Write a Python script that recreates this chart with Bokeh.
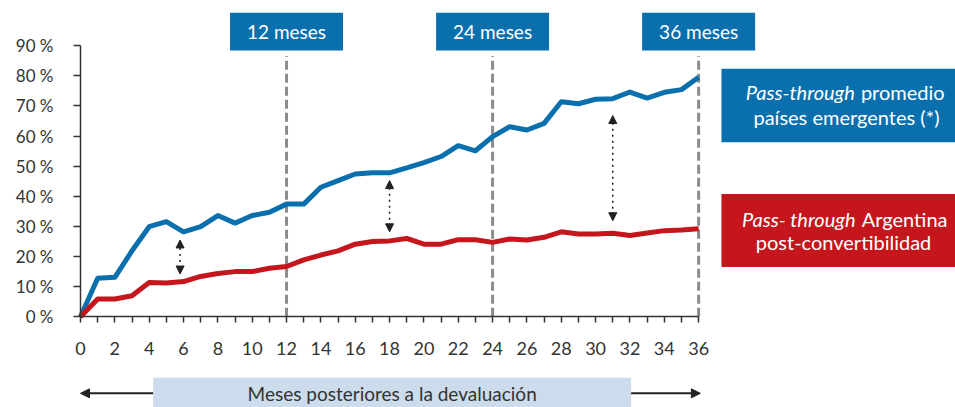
from bokeh.plotting import figure
from bokeh.models import Range1d, FixedTicker, Arrow, NormalHead, ColumnDataSource
from bokeh.embed import file_html
from bokeh.resources import INLINE
from bokeh.core.properties import value

# ---------------- data ----------------
months = list(range(0, 37))
emergentes = [0, 12.8, 13.1, 21.9, 29.9, 31.6, 28.2, 29.9, 33.6, 31.1, 33.6, 34.7,
              37.4, 37.4, 43.0, 45.2, 47.4, 47.8, 47.8, 49.4, 51.2, 53.2, 56.8, 55.1,
              59.8, 63.1, 62.0, 64.2, 71.4, 70.7, 72.2, 72.4, 74.6, 72.6, 74.5, 75.4, 79.5]
argentina = [0, 5.9, 5.9, 7.0, 11.4, 11.2, 11.7, 13.4, 14.4, 15.0, 15.0, 16.1,
             16.7, 18.9, 20.5, 21.9, 24.1, 25.0, 25.2, 26.0, 24.1, 24.1, 25.6, 25.6,
             24.7, 25.8, 25.5, 26.4, 28.2, 27.5, 27.5, 27.7, 27.0, 27.8, 28.6, 28.8, 29.2]
y_ticks = [0, 10, 20, 30, 40, 50, 60, 70, 80, 90]
y_tick_labels = ["0 %", "10 %", "20 %", "30 %", "40 %", "50 %", "60 %", "70 %", "80 %", "90 %"]
x_ticks = [0, 2, 4, 6, 8, 10, 12, 14, 16, 18, 20, 22, 24, 26, 28, 30, 32, 34, 36]
x_minor_ticks = [1, 3, 5, 7, 9, 11, 13, 15, 17, 19, 21, 23, 25, 27, 29, 31, 33, 35]
hitos = [12, 24, 36]
hito_labels = ["12 meses", "24 meses", "36 meses"]
brecha_x = [5.8, 18, 31]
brecha_low = [14.2, 28.2, 31.9]
brecha_high = [25.5, 45.2, 66.8]
x_label = "Meses posteriores a la devaluación"

# ---------------- style ----------------
BLUE = "#0A6FAD"
RED = "#C4161C"
GREY = "#8C8C8C"
TXT = "#333333"
DARK = "#222222"
FONT = "Lato"

p = figure(width=955, height=407, x_range=Range1d(-4.659, 50.96),
           y_range=Range1d(-30.1, 104.98), output_backend="svg",
           toolbar_location=None, min_border=0)
p.min_border_left = 0
p.min_border_right = 0
p.min_border_top = 0
p.min_border_bottom = 0
p.outline_line_color = None
p.grid.visible = False
p.background_fill_color = "white"
p.border_fill_color = "white"

# axes (drawn at the zero lines)
xa = p.xaxis[0]
xa.fixed_location = 0
xa.bounds = (0, 36)
xa.ticker = FixedTicker(ticks=x_ticks, minor_ticks=x_minor_ticks)
xa.axis_line_color = TXT
xa.axis_line_width = 1.5
xa.major_tick_line_color = TXT
xa.minor_tick_line_color = TXT
xa.major_tick_line_width = 1.5
xa.minor_tick_line_width = 1.5
xa.major_tick_in = 0
xa.major_tick_out = 6
xa.minor_tick_in = 0
xa.minor_tick_out = 6
xa.major_label_standoff = 19
xa.major_label_text_font = FONT
xa.major_label_text_font_size = "18px"
xa.major_label_text_color = TXT

ya = p.yaxis[0]
ya.fixed_location = 0
ya.bounds = (0, 90)
ya.ticker = FixedTicker(ticks=y_ticks, minor_ticks=[])
ya.major_label_overrides = dict(zip(y_ticks, y_tick_labels))
ya.axis_line_color = TXT
ya.axis_line_width = 1.5
ya.major_tick_line_color = TXT
ya.major_tick_line_width = 1.5
ya.major_tick_in = 0
ya.major_tick_out = 7
ya.minor_tick_out = 0
ya.major_label_standoff = 20
ya.major_label_text_font = FONT
ya.major_label_text_font_size = "17px"
ya.major_label_text_color = TXT

# vertical dashed markers and their boxes
p.segment(x0=hitos, y0=[0] * len(hitos), x1=hitos, y1=[86.6] * len(hitos),
          line_color=GREY, line_width=3, line_dash="9 4")
p.rect(x=hitos, y=94.65, width=6.58, height=12.5, fill_color=BLUE, line_color=None)
p.text(x=hitos, y=94.65, text=hito_labels, text_align="center", text_baseline="middle",
       text_color="white", text_font=value(FONT), text_font_size="19px")

# series
src = ColumnDataSource(dict(m=months, e=emergentes, a=argentina))
p.line("m", "e", source=src, line_color=BLUE, line_width=5, line_join="round")
p.line("m", "a", source=src, line_color=RED, line_width=5, line_join="round")

# gap arrows
bsrc = ColumnDataSource(dict(x=brecha_x, lo=brecha_low, hi=brecha_high))
p.add_layout(Arrow(start=NormalHead(size=8, fill_color=DARK, line_color=DARK),
                   end=NormalHead(size=8, fill_color=DARK, line_color=DARK),
                   x_start="x", y_start="lo", x_end="x", y_end="hi", source=bsrc,
                   line_color=DARK, line_width=1.5, line_dash="dotted"))

# legend boxes
p.quad(left=37.33, right=52, top=82.3, bottom=57.9, fill_color=BLUE, line_color=None)
p.quad(left=37.33, right=52, top=40.8, bottom=16.5, fill_color=RED, line_color=None)
LS = "20px"
p.text(x=45.1, y=74.5, text=["Pass-through"], text_align="right", text_baseline="middle",
       text_color="white", text_font=value(FONT), text_font_style="italic", text_font_size=LS)
p.text(x=45.45, y=74.5, text=["promedio"], text_align="left", text_baseline="middle",
       text_color="white", text_font=value(FONT), text_font_size=LS)
p.text(x=44.61, y=66.2, text=["países emergentes (*)"], text_align="center", text_baseline="middle",
       text_color="white", text_font=value(FONT), text_font_size=LS)
p.text(x=45.15, y=32.6, text=["Pass- through"], text_align="right", text_baseline="middle",
       text_color="white", text_font=value(FONT), text_font_style="italic", text_font_size=LS)
p.text(x=45.5, y=32.6, text=["Argentina"], text_align="left", text_baseline="middle",
       text_color="white", text_font=value(FONT), text_font_size=LS)
p.text(x=44.44, y=24.8, text=["post-convertibilidad"], text_align="center", text_baseline="middle",
       text_color="white", text_font=value(FONT), text_font_size=LS)

# bottom band with arrows
p.quad(left=4.23, right=32.07, top=-20.2, bottom=-32, fill_color="#CCDCEC", line_color=None)
p.text(x=18.15, y=-25.3, text=[x_label], text_align="center", text_baseline="alphabetic",
       text_color=TXT, text_font=value(FONT), text_font_size="19px")
p.add_layout(Arrow(end=NormalHead(size=9, fill_color=DARK, line_color=DARK),
                   x_start=4.23, y_start=-25.4, x_end=0, y_end=-25.4,
                   line_color=DARK, line_width=2))
p.add_layout(Arrow(end=NormalHead(size=9, fill_color=DARK, line_color=DARK),
                   x_start=32.07, y_start=-25.4, x_end=36.1, y_end=-25.4,
                   line_color=DARK, line_width=2))

open("out.html", "w").write(file_html(p, INLINE))
